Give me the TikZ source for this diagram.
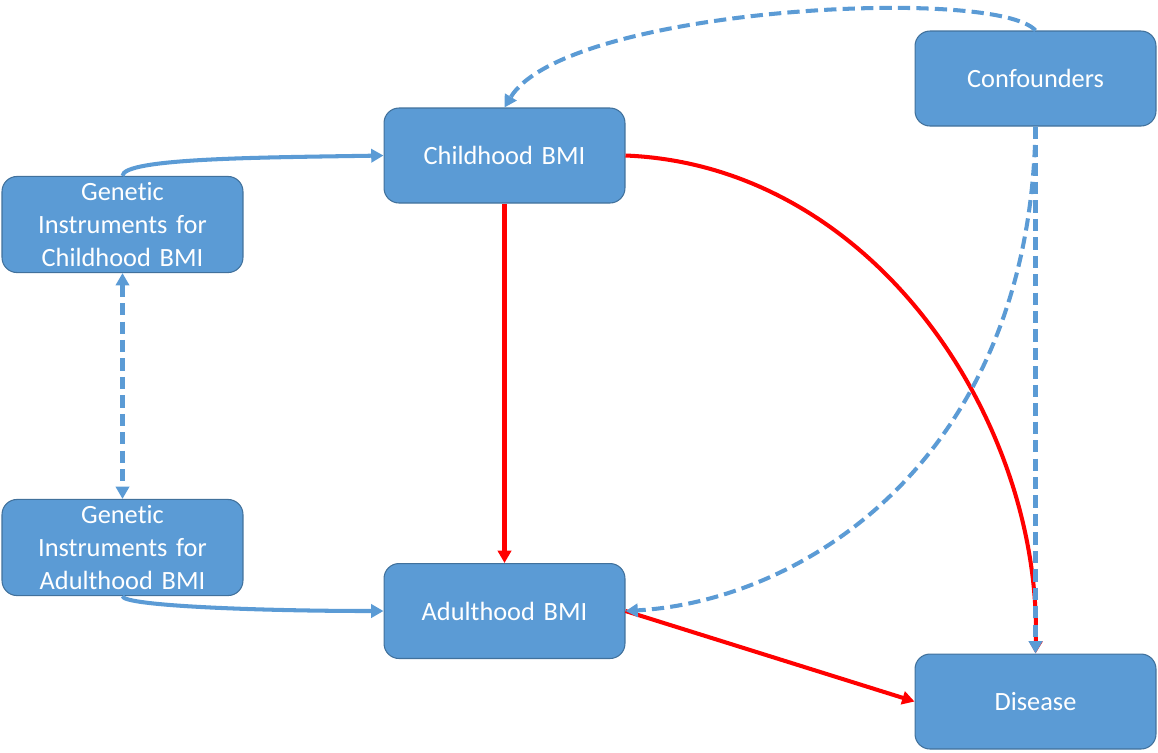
\documentclass[tikz,border=0pt]{standalone}
\usepackage{fontspec}
\setmainfont{Carlito}[RawFeature={-liga;-calt;-dlig;-clig}]
\usepackage{xcolor}
\usetikzlibrary{arrows.meta}
\definecolor{boxblue}{HTML}{5B9BD5}
\definecolor{boxedge}{HTML}{41719C}
\definecolor{arrred}{HTML}{FF0000}

\begin{document}
\begin{tikzpicture}[x=0.02cm,y=-0.02cm,
	box/.style={draw=boxedge,line width=0.6pt,fill=boxblue,rounded corners=0.3cm,
		minimum width=4.82cm,minimum height=1.9cm,text width=4.4cm,align=center,
		text=white,font=\fontsize{15}{18.8}\selectfont},
	blueline/.style={draw=boxblue,line width=2.3pt,-{Triangle[length=7pt,width=7.5pt]}},
	redline/.style={draw=arrred,line width=2.3pt,-{Triangle[length=7pt,width=7.5pt]}},
	dashline/.style={blueline,dash pattern=on 7pt off 3.5pt}]
		\useasboundingbox (0,0) rectangle (1158,752);
		\node[box] (conf) at (1035.5,78.5) {Confounders};
		\node[box] (cbmi) at (504.5,155.5) {Childhood BMI};
		\node[box] (gic) at (122.5,224.5) {Gene\kern0pt tic\\Instruments for\\Childhood BMI};
		\node[box] (gia) at (122.5,547.5) {Gene\kern0pt tic\\Instruments for\\Adulthood BMI};
		\node[box] (abmi) at (504.5,611) {Adulthood BMI};
		\node[box] (dis) at (1035.5,701.5) {Disease};
		% BMI to disease
		\draw[redline] (cbmi.south) -- (abmi.north);
		\draw[redline] (cbmi.east) .. controls +(250,10) and +(6,-230) .. (dis.north);
		\draw[redline] (abmi.east) -- (dis.west);
		% instruments
		\draw[blueline] (gic.north) .. controls +(0,-18) and +(-120,2) .. (cbmi.west);
		\draw[blueline] (gia.south) .. controls +(0,10) and +(-120,0) .. (abmi.west);
		\draw[dashline,{Triangle[length=7pt,width=7.5pt]}-{Triangle[length=7pt,width=7.5pt]}] (gic.south) -- (gia.north);
		% confounders
		\draw[dashline] (conf.north) .. controls +(-40,-45) and +(60,-100) .. (cbmi.north);
		\draw[dashline] (conf.south) -- (dis.north);
		\draw[dashline] (conf.south) .. controls +(-5,330) and +(180,-10) .. (abmi.east);
	\end{tikzpicture}
\end{document}
